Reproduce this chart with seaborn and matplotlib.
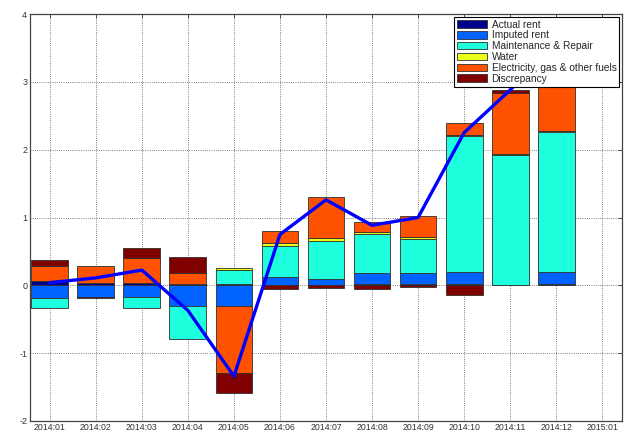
"""
Stacked contributions to housing inflation, with total line.
"""

import matplotlib.pyplot as plt
import numpy as np
import seaborn as sns

# Data
months = ["2014:01", "2014:02", "2014:03", "2014:04", "2014:05", "2014:06",
          "2014:07", "2014:08", "2014:09", "2014:10", "2014:11", "2014:12"]
tick_labels = months + ["2015:01"]

actual_rent = [0.07, 0.04, 0.03, 0.02, 0.02, 0.01, 0.01, 0.02, 0.02, 0.02, 0.01, 0.02]
imputed_rent = [-0.19, -0.17, -0.165, -0.31, -0.31, 0.11, 0.09, 0.155, 0.155, 0.18, 0.0, 0.17]
maintenance = [-0.15, 0.0, -0.165, -0.48, 0.21, 0.46, 0.55, 0.585, 0.505, 2.0, 1.91, 2.07]
water = [0.0, 0.0, 0.0, 0.0, 0.02, 0.05, 0.05, 0.03, 0.03, 0.02, 0.02, 0.02]
electricity = [0.21, 0.25, 0.37, 0.16, -0.98, 0.17, 0.60, 0.15, 0.31, 0.17, 0.90, 1.2]
discrepancy = [0.10, -0.01, 0.155, 0.24, -0.30, -0.05, -0.04, -0.055, -0.02, -0.14, 0.04, 0.05]

series = [
    ("Actual rent", actual_rent, "#00008B"),
    ("Imputed rent", imputed_rent, "#0063FF"),
    ("Maintenance & Repair", maintenance, "#1EFFDE"),
    ("Water", water, "#E8FF17"),
    ("Electricity, gas & other fuels", electricity, "#FF5200"),
    ("Discrepancy", discrepancy, "#800000"),
]

sns.set_style("white")
plt.rcParams["font.family"] = ["Liberation Sans", "DejaVu Sans"]
plt.rcParams["axes.unicode_minus"] = False

fig = plt.figure(figsize=(6.29, 4.33), dpi=100)
ax = fig.add_axes([30 / 629, 12 / 433, 592 / 629, 407 / 433])

# Stack positives upward and negatives downward
pos_base = np.zeros(len(months))
neg_base = np.zeros(len(months))
for name, vals, color in series:
    vals = np.asarray(vals, dtype=float)
    bottoms = np.where(vals >= 0, pos_base, neg_base)
    sns.barplot(
        x=months,
        y=vals,
        bottom=bottoms,
        color=color,
        saturation=1,
        width=0.8,
        edgecolor="#303030",
        linewidth=0.6,
        errorbar=None,
        label=name,
        ax=ax,
    )
    pos_base = pos_base + np.clip(vals, 0, None)
    neg_base = neg_base + np.clip(vals, None, 0)

# Total line
total = pos_base + neg_base
sns.lineplot(x=np.arange(len(months)), y=total, color="#0000FF",
             linewidth=2.4, ax=ax, zorder=3)

# Axes
ax.set_xticks(np.arange(len(tick_labels)))
ax.set_xticklabels(tick_labels)
ax.set_xlim(-0.43, len(tick_labels) - 0.57)
ax.set_ylim(-2, 4)
ax.set_yticks(range(-2, 5))
ax.set_xlabel("")
ax.set_ylabel("")

ax.grid(True, linestyle=":", color="#555555", linewidth=0.6)
ax.set_axisbelow(True)
ax.tick_params(axis="both", direction="in", length=3, width=0.6,
               top=True, right=True, colors="#333333", labelsize=6.5, pad=2)
ax.tick_params(axis="x", pad=1.5, labelsize=6.3)
for spine in ax.spines.values():
    spine.set_color("#444444")
    spine.set_linewidth(0.9)

leg = ax.legend(
    loc="upper right",
    fontsize=7.3,
    frameon=True,
    fancybox=False,
    edgecolor="black",
    framealpha=1,
    borderpad=0.3,
    labelspacing=0.08,
    handlelength=3.0,
    handleheight=0.75,
    handletextpad=0.4,
    borderaxespad=0.25,
)
leg.get_frame().set_linewidth(0.8)

fig.savefig("out.png", dpi=100)
plt.close()
